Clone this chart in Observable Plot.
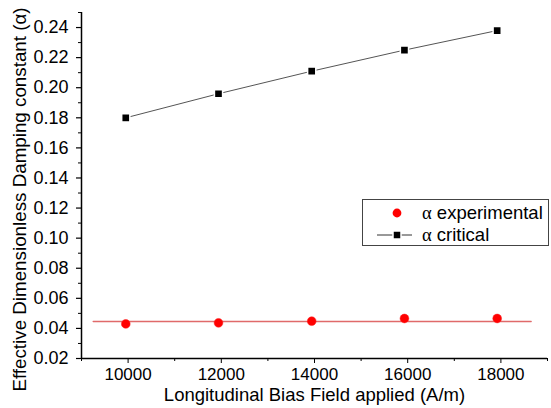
<!DOCTYPE html>
<html><head><meta charset="utf-8">
<script src="https://cdn.jsdelivr.net/npm/d3@7"></script>
<script src="https://cdn.jsdelivr.net/npm/@observablehq/plot@0.6"></script>
<style>
body{margin:0;background:#fff}
#wrap{position:relative;width:551px;height:408px;font-family:Arial,"Liberation Sans",sans-serif}
#legend{position:absolute;left:362px;top:199px}
</style>
</head><body><div id="wrap"></div>
<script>
// Data
const field = [9950, 11940, 13940, 15930, 17920];
const alphaCritical = [0.180, 0.196, 0.211, 0.225, 0.238];
const alphaExperimental = [0.0430, 0.0437, 0.0448, 0.0466, 0.0466];
const fitLevel = [0.0446, 0.0446];
const fitField = [9250, 18650];
const xMajor = [10000, 12000, 14000, 16000, 18000];
const xMinor = [9000, 11000, 13000, 15000, 17000, 19000];
const yMajor = [0.02, 0.04, 0.06, 0.08, 0.10, 0.12, 0.14, 0.16, 0.18, 0.20, 0.22, 0.24];
const yMinor = [0.03, 0.05, 0.07, 0.09, 0.11, 0.13, 0.15, 0.17, 0.19, 0.21, 0.23, 0.25];
const xTitle = "Longitudinal Bias Field applied (A/m)";
const yTitle = "Effective Dimensionless Damping constant (α)";
const seriesNames = ["α experimental", "α critical"];

const critical = field.map((x, i) => ({x, y: alphaCritical[i]}));
const experimental = field.map((x, i) => ({x, y: alphaExperimental[i]}));
const fit = fitField.map((x, i) => ({x, y: fitLevel[i]}));

const xDomain = [xMinor[0], xMinor[xMinor.length - 1]];
const yDomain = [yMajor[0], yMinor[yMinor.length - 1]];

const chart = Plot.plot({
  width: 551,
  height: 408,
  marginLeft: 81,
  marginRight: 4,
  marginTop: 12,
  marginBottom: 50,
  style: {fontFamily: "Arial, 'Liberation Sans', sans-serif", background: "#fff", color: "#000"},
  x: {domain: xDomain},
  y: {domain: yDomain},
  marks: [
    Plot.axisY({ticks: yMajor, tickSize: 5, tickPadding: 8, tickFormat: d3.format(".2f"), fontSize: 18, label: null, stroke: "#000", strokeWidth: 1.2}),
    Plot.axisY({ticks: yMinor, tickSize: 3, tickFormat: () => "", label: null, stroke: "#000"}),
    Plot.axisX({ticks: xMajor, tickSize: 5, tickPadding: 4, tickFormat: d3.format("d"), fontSize: 17, label: null}),
    Plot.axisX({ticks: xMinor, tickSize: 3, tickFormat: () => "", label: null}),
    Plot.text([xTitle], {frameAnchor: "bottom", dy: 42.5, fontSize: 18.5, fill: "#000", textAnchor: "middle"}),
    Plot.ruleX([xDomain[0]], {stroke: "#000", strokeWidth: 1.5}),
    Plot.ruleY([yDomain[0]], {stroke: "#000", strokeWidth: 1.5}),
    Plot.text([yTitle], {frameAnchor: "left", textAnchor: "middle", rotate: -90, dx: -62, dy: 14, fontSize: 18.8, fill: "#000"}),
    Plot.line(fit, {x: "x", y: "y", stroke: "#e06a6a", strokeWidth: 1.3}),
    Plot.line(critical, {x: "x", y: "y", stroke: "#555", strokeWidth: 1}),
    Plot.dot(critical, {x: "x", y: "y", symbol: "square", r: 4.6, fill: "#000", stroke: "#fff", strokeWidth: 1.5}),
    Plot.dot(experimental, {x: "x", y: "y", symbol: "circle", r: 4.4, fill: "#ff0000", stroke: "#ff2020", strokeWidth: 0.5})
  ]
});
const wrap = document.getElementById("wrap");
wrap.appendChild(chart);

// Legend
const lg = d3.select(wrap).append("svg").attr("id", "legend")
  .attr("width", 188).attr("height", 48)
  .style("font-family", "Arial, 'Liberation Sans', sans-serif");
lg.append("rect").attr("x", 0.5).attr("y", 0.5).attr("width", 186).attr("height", 46)
  .attr("fill", "#fff").attr("stroke", "#444");
lg.append("circle").attr("cx", 35).attr("cy", 14).attr("r", 4.4).attr("fill", "#ff0000");
lg.append("line").attr("x1", 15).attr("x2", 50).attr("y1", 36).attr("y2", 36).attr("stroke", "#333");
lg.append("rect").attr("x", 31).attr("y", 32).attr("width", 8).attr("height", 8).attr("fill", "#000").attr("stroke", "#fff").attr("stroke-width", 1.5);
seriesNames.forEach((s, i) => {
  const t = lg.append("text").attr("x", 60).attr("y", 20 + i * 22).attr("font-size", 18.5).attr("fill", "#000");
  t.append("tspan").attr("font-family", "'Liberation Serif', serif").text(s.slice(0, 1));
  t.append("tspan").text(s.slice(1));
});
</script>
</body></html>
